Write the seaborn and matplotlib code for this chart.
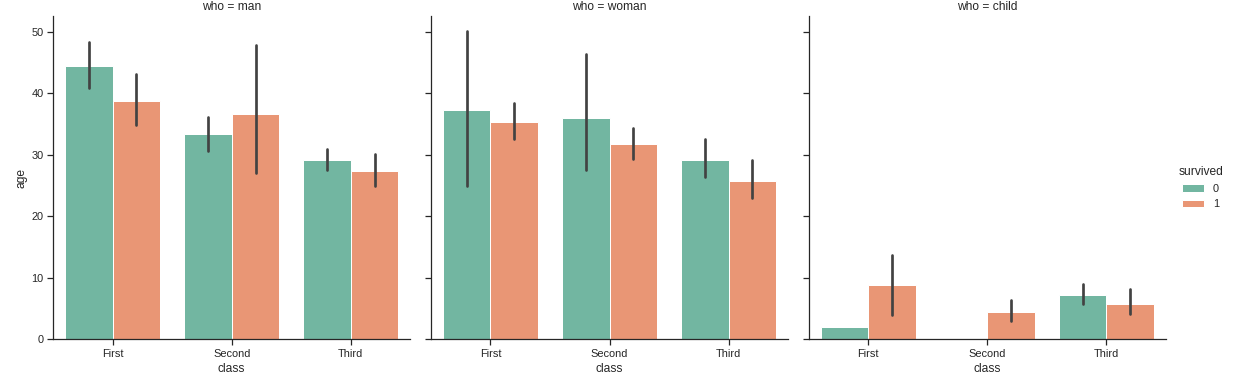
import numpy as np
import pandas as pd
import seaborn as sns
import matplotlib.pyplot as plt

# =========================
# Data: mean age by class / who / survived, with 95% CI
# =========================
classes = ["First", "Second", "Third"]
who_levels = ["man", "woman", "child"]
survived_levels = ["0", "1"]

# order: man (First, Second, Third), woman (...), child (...)
mean_died = [44.5, 33.3, 29.1, 37.3, 35.9, 29.1, 2.0, np.nan, 7.2]
lo_died = [40.9, 30.6, 27.5, 24.9, 27.5, 26.4, np.nan, np.nan, 5.8]
hi_died = [48.4, 36.1, 30.9, 50.1, 46.3, 32.5, np.nan, np.nan, 9.0]

mean_surv = [38.8, 36.6, 27.4, 35.4, 31.7, 25.7, 8.8, 4.4, 5.8]
lo_surv = [34.8, 27.0, 25.0, 32.6, 29.3, 23.0, 3.9, 2.9, 4.1]
hi_surv = [43.2, 47.9, 30.2, 38.4, 34.4, 29.1, 13.7, 6.4, 8.1]

rows = []
for i, w in enumerate(who_levels):
    for j, c in enumerate(classes):
        k = i * 3 + j
        rows.append([w, c, "0", mean_died[k], lo_died[k], hi_died[k]])
        rows.append([w, c, "1", mean_surv[k], lo_surv[k], hi_surv[k]])
df = pd.DataFrame(rows, columns=["who", "class", "survived", "age", "lo", "hi"])
df = df.dropna(subset=["age"])

# =========================
# Plot
# =========================
sns.set_theme(style="ticks", context="notebook")
plt.rcParams["font.family"] = ["Liberation Sans", "DejaVu Sans"]

g = sns.catplot(data=df, x="class", y="age", hue="survived", col="who",
                kind="bar", palette="Set2", errorbar=None,
                order=classes, hue_order=survived_levels, col_order=who_levels,
                height=5, aspect=1)

# error bars drawn at the bar centres
for ax, w in zip(g.axes.flat, who_levels):
    sub = df[df["who"] == w]
    for hue, cont in zip(survived_levels, ax.containers):
        for bar in cont.patches:
            cx = bar.get_x() + bar.get_width() / 2
            cls = classes[int(round(cx))]
            r = sub[(sub["class"] == cls) & (sub["survived"] == hue)]
            if len(r) and not np.isnan(r["lo"].iloc[0]):
                ax.plot([cx, cx], [r["lo"].iloc[0], r["hi"].iloc[0]],
                        color=".26", linewidth=2.7, solid_capstyle="round",
                        zorder=3)
    ax.set_xlim(-0.5, len(classes) - 0.5)

fig = g.figure
fig.set_size_inches(1233 / 72, 386 / 72)
fig.subplots_adjust(left=0.043, right=0.9457, bottom=0.121, top=0.9593,
                    wspace=0.0574)
g._legend.set_bbox_to_anchor((1.0, 0.513), transform=fig.transFigure)
fig.savefig("out.png", dpi=72)
